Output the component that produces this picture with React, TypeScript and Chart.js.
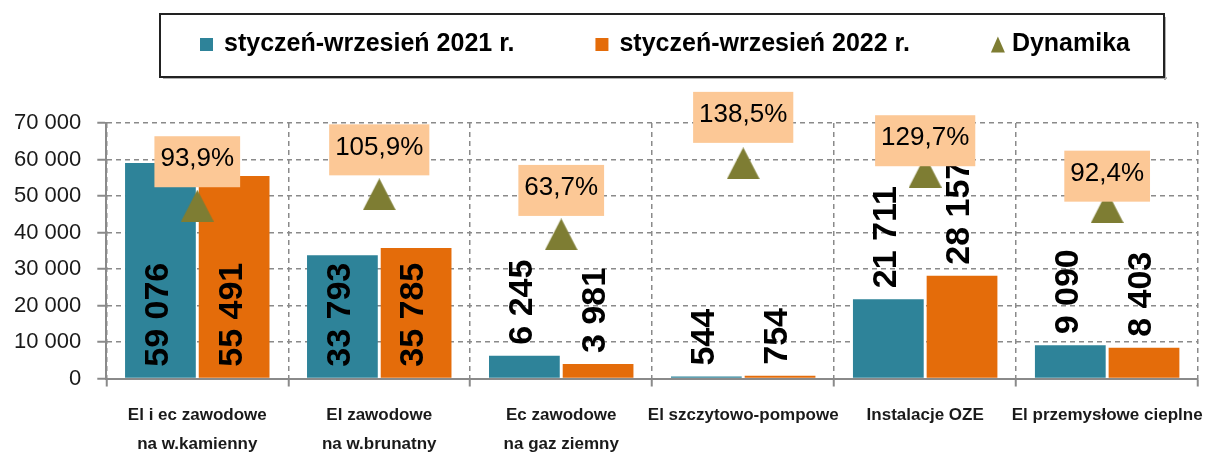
import React, { useEffect, useRef } from 'react';
import { Chart, registerables } from 'chart.js';

Chart.register(...registerables);

// ---------- data ----------
const categories: (string | string[])[] = [
  ['El i ec zawodowe', 'na w.kamienny'],
  ['El zawodowe', 'na w.brunatny'],
  ['Ec zawodowe', 'na gaz ziemny'],
  'El szczytowo-pompowe',
  'Instalacje OZE',
  'El przemysłowe cieplne',
];
const seriesNames = ['styczeń-wrzesień 2021 r.', 'styczeń-wrzesień 2022 r.', 'Dynamika'];
const values2021 = [59076, 33793, 6245, 544, 21711, 9090];
const values2022 = [55491, 35785, 3981, 754, 28157, 8403];
const dynamika = [93.9, 105.9, 63.7, 138.5, 129.7, 92.4];
const yTickValues = [0, 10000, 20000, 30000, 40000, 50000, 60000, 70000];

// ---------- styles ----------
const TEAL = '#2E8399';
const ORANGE = '#E46C0A';
const OLIVE = '#7E7D33';
const BOX = '#FCC896';
const GRID = '#8A8A8A';
const FONT = '"Liberation Sans", Arial, sans-serif';
// vertical distance between a Dynamika marker and its label box centre
const dynLabelLift = [44, 44.5, 44, 46, 31, 31];

const fmtThousands = (v: number) => String(Math.round(v)).replace(/\B(?=(\d{3})+(?!\d))/g, ' ');
const fmtPct = (v: number) => v.toFixed(1).replace('.', ',') + '%';

function makeTriangle(w: number, h: number, color: string) {
  const c = document.createElement('canvas');
  c.width = w;
  c.height = h;
  const g = c.getContext('2d')!;
  g.fillStyle = color;
  g.beginPath();
  g.moveTo(w / 2, 0);
  g.lineTo(w, h);
  g.lineTo(0, h);
  g.closePath();
  g.fill();
  return c;
}

const barLabelPlugin = {
  id: 'barLabels',
  afterDatasetsDraw(chart: any) {
    const ctx = chart.ctx;
    [0, 1].forEach((di) => {
      const meta = chart.getDatasetMeta(di);
      meta.data.forEach((bar: any, i: number) => {
        const v = chart.data.datasets[di].data[i];
        const text = fmtThousands(v);
        ctx.save();
        ctx.font = `bold 34px ${FONT}`;
        const w = ctx.measureText(text).width;
        const h = bar.base - bar.y;
        const gap = 11;
        const startY = h >= w + gap + 4 ? bar.base - gap : bar.y - gap;
        ctx.translate(bar.x, startY);
        ctx.rotate(-Math.PI / 2);
        ctx.textAlign = 'left';
        ctx.textBaseline = 'middle';
        ctx.fillStyle = '#000';
        ctx.fillText(text, 0, -2);
        ctx.restore();
      });
    });
  },
};

const dynLabelPlugin = {
  id: 'dynLabels',
  afterDatasetsDraw(chart: any) {
    const ctx = chart.ctx;
    const meta = chart.getDatasetMeta(2);
    meta.data.forEach((pt: any, i: number) => {
      const text = fmtPct(chart.data.datasets[2].data[i]);
      ctx.save();
      ctx.font = `26px ${FONT}`;
      const w = ctx.measureText(text).width + 12;
      const h = 51;
      const cx = pt.x;
      const cy = pt.y - dynLabelLift[i];
      ctx.fillStyle = BOX;
      ctx.fillRect(cx - w / 2, cy - h / 2, w, h);
      ctx.fillStyle = '#000';
      ctx.textAlign = 'center';
      ctx.textBaseline = 'middle';
      ctx.fillText(text, cx, cy - 2.5);
      ctx.restore();
    });
  },
};

const legendPlugin = {
  id: 'boxLegend',
  afterDraw(chart: any) {
    const ctx = chart.ctx;
    const left = 160, top = 14, right = 1164, bottom = 77;
    ctx.save();
    ctx.fillStyle = '#b0b0b0';
    ctx.fillRect(left + 3, bottom, right - left, 2);
    ctx.fillRect(right, top + 3, 2, bottom - top);
    ctx.fillStyle = '#fff';
    ctx.fillRect(left, top, right - left, bottom - top);
    ctx.strokeStyle = '#222';
    ctx.lineWidth = 2;
    ctx.strokeRect(left, top, right - left, bottom - top);

    ctx.font = `bold 25px ${FONT}`;
    ctx.textBaseline = 'middle';
    ctx.textAlign = 'left';
    const cy = 44.5;
    let x = 200;
    const gap = 81;
    chart.data.datasets.forEach((ds: any, i: number) => {
      if (i < 2) {
        ctx.fillStyle = ds.backgroundColor;
        ctx.fillRect(x, cy - 6.5, 13, 13);
        x += 13 + 11;
      } else {
        ctx.fillStyle = OLIVE;
        ctx.beginPath();
        ctx.moveTo(x + 7, cy - 8);
        ctx.lineTo(x + 14, cy + 8);
        ctx.lineTo(x, cy + 8);
        ctx.closePath();
        ctx.fill();
        x += 14 + 7;
      }
      ctx.fillStyle = '#000';
      ctx.fillText(ds.label, x, cy);
      x += ctx.measureText(ds.label).width + gap;
    });
    ctx.restore();
  },
};

export default function App() {
  const ref = useRef<HTMLCanvasElement | null>(null);

  useEffect(() => {
    if (!ref.current) return;
    const tri = makeTriangle(33, 32, OLIVE);
    const chart = new Chart(ref.current, {
      type: 'bar',
      data: {
        labels: categories,
        datasets: [
          {
            type: 'bar',
            label: seriesNames[0],
            data: values2021,
            backgroundColor: TEAL,
            borderWidth: 0,
            categoryPercentage: 0.81,
            barPercentage: 0.96,
            order: 1,
          },
          {
            type: 'bar',
            label: seriesNames[1],
            data: values2022,
            backgroundColor: ORANGE,
            borderWidth: 0,
            categoryPercentage: 0.81,
            barPercentage: 0.96,
            order: 1,
          },
          {
            type: 'line',
            label: seriesNames[2],
            data: dynamika,
            yAxisID: 'y2',
            showLine: false,
            pointStyle: tri as any,
            pointRadius: 16,
            backgroundColor: OLIVE,
            borderColor: OLIVE,
            order: 0,
          },
        ] as any,
      },
      options: {
        responsive: true,
        maintainAspectRatio: false,
        animation: false,
        layout: { padding: { top: 123, left: -2, right: 0, bottom: -16 } },
        plugins: {
          legend: { display: false },
          tooltip: { enabled: false },
        },
        scales: {
          x: {
            offset: true,
            grid: {
              display: true,
              offset: true,
              color: GRID,
              lineWidth: 1.5,
              tickLength: 8,
              tickColor: GRID,
              tickWidth: 2,
              tickBorderDash: [],
            },
            border: { display: true, color: GRID, width: 2, dash: [5, 4] },
            ticks: {
              autoSkip: false,
              maxRotation: 0,
              padding: 14,
              color: '#1a1a1a',
              font: { family: FONT, size: 17, weight: 'bold', lineHeight: 1.72 },
            },
          },
          y: {
            min: yTickValues[0],
            max: yTickValues[yTickValues.length - 1],
            afterBuildTicks: (axis: any) => {
              axis.ticks = yTickValues.map((v) => ({ value: v }));
            },
            ticks: {
              padding: 16,
              color: '#1a1a1a',
              font: { family: FONT, size: 22 },
              callback: (v: any) => fmtThousands(Number(v)),
            },
            grid: {
              color: GRID,
              lineWidth: 1.5,
              tickLength: 9,
              tickColor: GRID,
              tickWidth: 2,
              tickBorderDash: [],
            },
            border: { display: true, color: GRID, width: 2, dash: [5, 4] },
          },
          y2: {
            display: false,
            min: -88,
            max: 181,
          },
        },
      } as any,
      plugins: [barLabelPlugin, dynLabelPlugin, legendPlugin],
    });
    return () => chart.destroy();
  }, []);

  return (
    <div style={{ position: 'fixed', left: 0, top: 0, width: 1218, height: 457, background: '#fff' }}>
      <canvas ref={ref} />
    </div>
  );
}
